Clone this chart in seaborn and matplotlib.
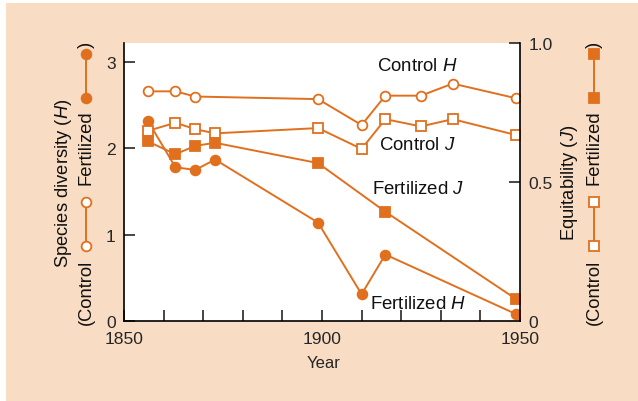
import matplotlib
matplotlib.use("Agg")
import matplotlib.pyplot as plt
import seaborn as sns
from matplotlib.lines import Line2D
from matplotlib.patches import Rectangle
from matplotlib.ticker import MultipleLocator, FuncFormatter

sns.set_style("ticks")
plt.rcParams["font.family"] = ["Liberation Sans", "DejaVu Sans"]
plt.rcParams["mathtext.fontset"] = "custom"
plt.rcParams["mathtext.rm"] = "Liberation Sans"
plt.rcParams["mathtext.it"] = "Liberation Sans:italic"

ORANGE = "#E1701E"
PEACH = "#F8DCC4"

# Species diversity (H) and equitability (J), control vs fertilized plots
years_control_H = [1856, 1863, 1868, 1899, 1910, 1916, 1925, 1933, 1949]
control_H = [2.66, 2.66, 2.60, 2.57, 2.27, 2.61, 2.61, 2.75, 2.58]

years_control_J = [1856, 1863, 1868, 1873, 1899, 1910, 1916, 1925, 1933, 1949]
control_J = [0.684, 0.713, 0.690, 0.675, 0.694, 0.619, 0.726, 0.700, 0.726, 0.669]

years_fert_H = [1856, 1863, 1868, 1873, 1899, 1910, 1916, 1949]
fertilized_H = [2.32, 1.78, 1.75, 1.87, 1.14, 0.31, 0.77, 0.08]

years_fert_J = [1856, 1863, 1868, 1873, 1899, 1916, 1949]
fertilized_J = [0.646, 0.600, 0.630, 0.641, 0.568, 0.393, 0.079]

W, H = 638, 402


def fx(px):
    return px / W


def fy(py):
    return 1 - py / H


fig = plt.figure(figsize=(W / 100, H / 100), dpi=100)
fig.patch.set_facecolor("white")
fig.add_artist(Rectangle((fx(6), 0), 1 - fx(6), fy(4), transform=fig.transFigure,
                         facecolor=PEACH, edgecolor="none", zorder=-10))

ax = fig.add_axes([fx(124), fy(322), (520 - 124) / W, (322 - 44) / H])
ax.set_facecolor("white")
ax2 = ax.twinx()

line_kw = dict(color=ORANGE, linewidth=1.4, markeredgecolor=ORANGE,
               markeredgewidth=1.3, errorbar=None)

sns.lineplot(x=years_control_H, y=control_H, ax=ax, marker="o", markersize=7,
             markerfacecolor="white", **line_kw)
sns.lineplot(x=years_fert_H, y=fertilized_H, ax=ax, marker="o", markersize=7,
             markerfacecolor=ORANGE, **line_kw)
sns.lineplot(x=years_control_J, y=control_J, ax=ax2, marker="s", markersize=7,
             markerfacecolor="white", **line_kw)
sns.lineplot(x=years_fert_J, y=fertilized_J, ax=ax2, marker="s", markersize=7,
             markerfacecolor=ORANGE, **line_kw)

ax.set_xlim(1850, 1950)
ax.set_ylim(0, 3.22)
ax2.set_ylim(0, 1.0)

for a in (ax, ax2):
    a.spines["top"].set_visible(False)
    for s in a.spines.values():
        s.set_linewidth(1.2)
        s.set_color("black")
ax.spines["right"].set_visible(False)
ax2.spines["left"].set_visible(False)
ax2.spines["bottom"].set_visible(False)

ax.xaxis.set_major_locator(MultipleLocator(10))
ax.xaxis.set_major_formatter(FuncFormatter(lambda v, p: f"{int(round(v))}" if round(v) % 50 == 0 else ""))
ax.set_yticks([0, 1, 2, 3])
ax.set_yticklabels(["0", "1", "2", "3"])
ax2.set_yticks([0, 0.5, 1.0])
ax2.set_yticklabels(["0", "0.5", "1.0"])

ax.tick_params(axis="x", direction="in", length=8, width=1.2, pad=7, labelsize=12.6)
ax.tick_params(axis="y", direction="in", length=8, width=1.2, pad=6, labelsize=12.6)
ax2.tick_params(axis="y", direction="in", length=8, width=1.2, pad=6, labelsize=12.6)

ax.set_xlabel("Year", fontsize=12)
ax.xaxis.set_label_coords((324 - 124) / 396, (322 - 356) / 278)
ax.set_ylabel("")
ax2.set_ylabel("")

# Inline series labels
lab_kw = dict(fontsize=13.4, ha="left", va="center", color="#111111")
ax.text(1913.9, 2.965, "Control $H$", **lab_kw)
ax.text(1914.4, 2.04, "Control $J$", **lab_kw)
ax.text(1912.6, 1.54, "Fertilized $J$", **lab_kw)
ax.text(1912.1, 0.197, "Fertilized $H$", **lab_kw)


def key_pair(px, y0, y1, marker, face):
    fig.add_artist(Line2D([fx(px), fx(px)], [fy(y0), fy(y1)], transform=fig.transFigure,
                          color=ORANGE, linewidth=1.4, marker=marker, markersize=7,
                          markerfacecolor=face, markeredgecolor=ORANGE,
                          markeredgewidth=1.3))


def axis_title(px_title, px_key, title, marker):
    txt = dict(rotation=90, ha="center", fontsize=13.2, color="#111111")
    fig.text(fx(px_title), fy(183), title, va="center", **txt)
    fig.text(fx(px_key), fy(325), "(Control", va="bottom", **txt)
    key_pair(px_key, 247, 203, marker, "white")
    fig.text(fx(px_key), fy(185), "Fertilized", va="bottom", **txt)
    key_pair(px_key, 99, 55, marker, ORANGE)
    fig.text(fx(px_key), fy(45), ")", va="center", **txt)


axis_title(63, 86, "Species diversity ($H$)", "o")
axis_title(570, 594, "Equitability ($J$)", "s")

fig.savefig("out.png", dpi=100)
